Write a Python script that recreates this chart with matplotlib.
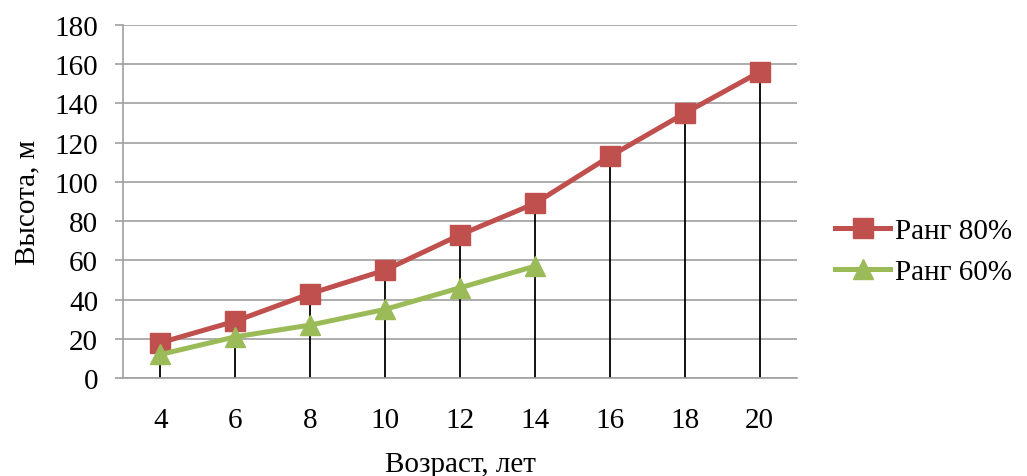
import matplotlib.pyplot as plt
import numpy as np

plt.rcParams['font.family'] = ['Liberation Serif', 'DejaVu Serif']

# Данные
vozrast = [4, 6, 8, 10, 12, 14, 16, 18, 20]
rang_80 = [18, 29, 43, 55, 73, 89, 113, 135, 156]
rang_60 = [12, 21, 27, 35, 46, 57]

COR_80 = "#C0504D"
COR_60 = "#9BBB59"
CINZA = "#A0A0A0"

fig = plt.figure(figsize=(10.27, 4.77), dpi=100)
ax = fig.add_axes([123 / 1027, 1 - 379 / 477, 674 / 1027, 353 / 477])

x = np.arange(len(vozrast))
x60 = np.arange(len(rang_60))

# линии проекции (drop lines) от максимума к оси
topo = [max(rang_80[i], rang_60[i]) if i < len(rang_60) else rang_80[i]
        for i in range(len(vozrast))]
ax.vlines(x, 0, topo, colors="black", linewidth=1.3, zorder=2)

ax.plot(x, rang_80, color=COR_80, linewidth=3.6, marker="s", markersize=14,
        label="Ранг 80%", zorder=3)
ax.plot(x60, rang_60, color=COR_60, linewidth=3.6, marker="^", markersize=15,
        label="Ранг 60%", zorder=3)

ax.set_xlim(-0.5, len(vozrast) - 0.5)
ax.set_ylim(0, 180)
ax.set_yticks(range(0, 181, 20))
ax.set_xticks(x)
ax.set_xticklabels([str(v) for v in vozrast])

ax.grid(axis="y", color=CINZA, linewidth=1.2, zorder=0)
ax.set_axisbelow(True)
for s in ["top", "right"]:
    ax.spines[s].set_visible(False)
for s in ["left", "bottom"]:
    ax.spines[s].set_color(CINZA)
    ax.spines[s].set_linewidth(1.2)

ax.tick_params(axis="y", length=6, width=1.2, color=CINZA, labelsize=21, pad=12)
ax.tick_params(axis="x", length=0, labelsize=21, pad=21)

ax.set_xlabel("Возраст, лет", fontsize=21, labelpad=13)
ax.set_ylabel("Высота, м", fontsize=21, labelpad=10)

fig.legend(loc="center left", bbox_to_anchor=(835 / 1027, 1 - 252 / 477),
           frameon=False, fontsize=21, handlelength=1.9, handletextpad=0.15,
           labelspacing=0.5, borderpad=0, borderaxespad=0)

fig.savefig("out.png", dpi=100)
